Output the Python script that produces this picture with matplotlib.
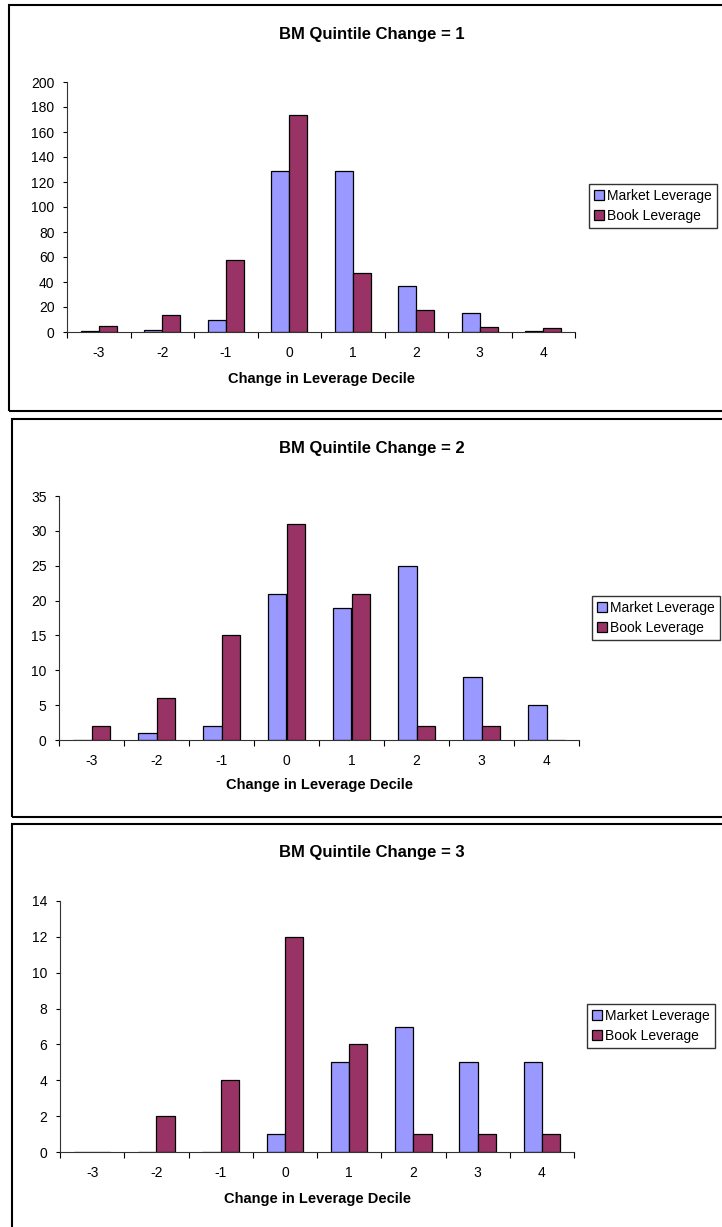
import numpy as np
import matplotlib
matplotlib.use("Agg")
import matplotlib.pyplot as plt
from matplotlib.patches import Rectangle

plt.rcParams["font.family"] = ["Liberation Sans", "DejaVu Sans"]

# Change in leverage decile (x categories)
deciles = ["-3", "-2", "-1", "0", "1", "2", "3", "4"]

# BM quintile change = 1
market_q1 = [1, 2, 10, 129, 129, 37, 15, 1]
book_q1 = [5, 14, 58, 174, 47, 18, 4, 3]

# BM quintile change = 2
market_q2 = [0, 1, 2, 21, 19, 25, 9, 5]
book_q2 = [2, 6, 15, 31, 21, 2, 2, 0]

# BM quintile change = 3
market_q3 = [0, 0, 0, 1, 5, 7, 5, 5]
book_q3 = [0, 2, 4, 12, 6, 1, 1, 1]

MARKET_COLOR = "#9999FF"
BOOK_COLOR = "#993366"

W, H = 722, 1227
fig = plt.figure(figsize=(W / 100, H / 100), dpi=100)


def px_rect(x0, y0, x1, y1):
    # pixel box (top-left origin) -> figure fraction [left, bottom, width, height]
    return [x0 / W, 1 - y1 / H, (x1 - x0) / W, (y1 - y0) / H]


def draw_panel(box, axbox, legend_xy, title, title_y, xlabel_y,
               market, book, ymax, ystep):
    # outer frame around each chart
    bx0, by0, bx1, by1 = box
    fig.patches.append(Rectangle((bx0 / W, 1 - by1 / H), (bx1 - bx0) / W,
                                 (by1 - by0) / H, transform=fig.transFigure,
                                 fill=False, edgecolor="black", linewidth=1.5))

    ax = fig.add_axes(px_rect(*axbox))
    x = np.arange(len(deciles))
    w = 0.2857
    ax.bar(x - w / 2, market, width=w, color=MARKET_COLOR, edgecolor="black",
           linewidth=0.9, label="Market Leverage")
    ax.bar(x + w / 2, book, width=w, color=BOOK_COLOR, edgecolor="black",
           linewidth=0.9, label="Book Leverage")

    ax.set_xlim(-0.5, len(deciles) - 0.5)
    ax.set_ylim(0, ymax)
    ax.set_yticks(np.arange(0, ymax + ystep / 2, ystep))
    ax.set_xticks(x)
    ax.set_xticklabels(deciles)
    ax.set_xticks(np.arange(-0.5, len(deciles)), minor=True)
    ax.tick_params(axis="x", which="major", length=0, pad=10, labelsize=10)
    ax.tick_params(axis="x", which="minor", length=4, width=0.8, direction="out")
    ax.tick_params(axis="y", length=3, width=0.8, direction="out", pad=6,
                   labelsize=10)
    for side in ("top", "right"):
        ax.spines[side].set_visible(False)
    for side in ("left", "bottom"):
        ax.spines[side].set_linewidth(0.8)
        ax.spines[side].set_color("#333333")

    fig.text(372 / W, 1 - title_y / H, title, ha="center", va="center",
             fontsize=12, fontweight="bold")
    cx = (axbox[0] + axbox[2]) / 2
    fig.text(cx / W, 1 - xlabel_y / H, "Change in Leverage Decile",
             ha="center", va="center", fontsize=10.5, fontweight="bold")

    lx, ly = legend_xy
    leg = fig.legend(*ax.get_legend_handles_labels(), loc="upper left",
                     bbox_to_anchor=(lx / W, 1 - ly / H), fontsize=10,
                     frameon=True, fancybox=False, borderpad=0.35,
                     handlelength=0.75, handleheight=0.75, handletextpad=0.2,
                     labelspacing=0.45, borderaxespad=0)
    leg.get_frame().set_edgecolor("black")
    leg.get_frame().set_linewidth(1.0)
    return ax


draw_panel((9, 5, 735, 411), (67, 82, 575, 332), (589, 184),
           "BM Quintile Change = 1", 34, 379, market_q1, book_q1, 200, 20)
draw_panel((12, 419, 735, 817), (59, 496, 579, 740), (592, 596),
           "BM Quintile Change = 2", 448, 785, market_q2, book_q2, 35, 5)
draw_panel((12, 824, 735, 1240), (60, 901, 574, 1152), (587, 1004),
           "BM Quintile Change = 3", 853, 1199, market_q3, book_q3, 14, 2)

fig.savefig("out.png", dpi=100)
